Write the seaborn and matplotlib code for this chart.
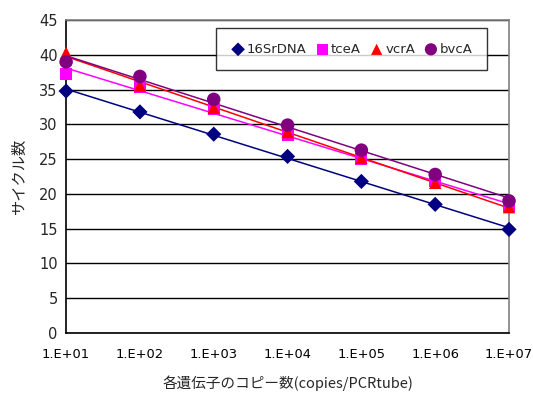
import numpy as np
import pandas as pd
import matplotlib
matplotlib.use("Agg")
import matplotlib.pyplot as plt
import seaborn as sns

# ==========================================
# Data
# ==========================================

copies = [1e1, 1e2, 1e3, 1e4, 1e5, 1e6, 1e7]
tick_labels = ["1.E+01", "1.E+02", "1.E+03", "1.E+04", "1.E+05", "1.E+06", "1.E+07"]

y_16s = [34.8, 31.8, 28.6, 25.4, 21.8, 18.5, 14.9]
y_tcea = [37.2, 35.4, 32.2, 28.5, 25.0, 21.8, 18.3]
y_vcra = [40.3, 35.6, 32.4, 28.9, 25.2, 21.6, 18.1]
y_bvca = [39.0, 36.9, 33.6, 29.9, 26.3, 22.8, 19.0]

genes = ["16SrDNA", "tceA", "vcrA", "bvcA"]
values = [y_16s, y_tcea, y_vcra, y_bvca]
colors = ["#000080", "#FF00FF", "#FF0000", "#800080"]
markers = ["D", "s", "^", "o"]
sizes = [60, 75, 80, 95]

rows = []
for g, vals in zip(genes, values):
    for c, v in zip(copies, vals):
        rows.append({"copies": c, "cycle": v, "gene": g})
df = pd.DataFrame(rows)

# ==========================================
# Plot
# ==========================================

sns.set_style("white")
plt.rcParams["font.family"] = ["DejaVu Sans", "Noto Sans CJK JP"]

fig = plt.figure(figsize=(5.33, 3.95), dpi=100)
ax = fig.add_axes([0.124, 0.157, 0.831, 0.792])

# linear trendlines on log10(copies)
logx = np.log10(copies)
for g, vals, col in zip(genes, values, colors):
    k, b = np.polyfit(logx, vals, 1)
    fit = pd.DataFrame({"copies": copies, "cycle": k * logx + b})
    sns.lineplot(data=fit, x="copies", y="cycle", color=col, lw=1.1, ax=ax, legend=False)

for g, col, m, s in zip(genes, colors, markers, sizes):
    sub = df[df["gene"] == g]
    sns.scatterplot(data=sub, x="copies", y="cycle", color=col, marker=m, s=s,
                    edgecolor="none", ax=ax, label=g, zorder=3, clip_on=False)

ax.set_xscale("log")
ax.set_xlim(1e1, 1e7)
ax.set_ylim(0, 45)
ax.set_xticks(copies)
ax.set_xticklabels(tick_labels)
ax.minorticks_off()
ax.set_yticks(range(0, 46, 5))

ax.yaxis.grid(True, color="black", lw=1)
ax.xaxis.grid(False)
ax.set_axisbelow(True)

for side in ["left", "bottom"]:
    ax.spines[side].set_color("black")
    ax.spines[side].set_linewidth(1.2)
for side in ["top", "right"]:
    ax.spines[side].set_color("#808080")
    ax.spines[side].set_linewidth(1.2)

ax.tick_params(axis="x", direction="in", length=5, width=1, colors="black", labelsize=9.4, pad=11)
ax.tick_params(axis="y", length=0, labelsize=10.5, pad=6)

ax.set_xlabel("各遺伝子のコピー数(copies/PCRtube)", fontsize=10.5, labelpad=10,
              family=["Noto Sans CJK JP", "DejaVu Sans"])
ax.set_ylabel("サイクル数", fontsize=11, labelpad=8,
              family=["Noto Sans CJK JP", "DejaVu Sans"])

leg = ax.legend(loc="upper right", bbox_to_anchor=(0.950, 0.974), borderaxespad=0,
                ncol=4, frameon=True, fancybox=False, edgecolor="black", fontsize=9.5,
                handletextpad=0.05, columnspacing=0.6, borderpad=1.1, handlelength=1.2,
                markerscale=0.9)
leg.get_frame().set_linewidth(1.0)

plt.savefig("out.png", dpi=100)
